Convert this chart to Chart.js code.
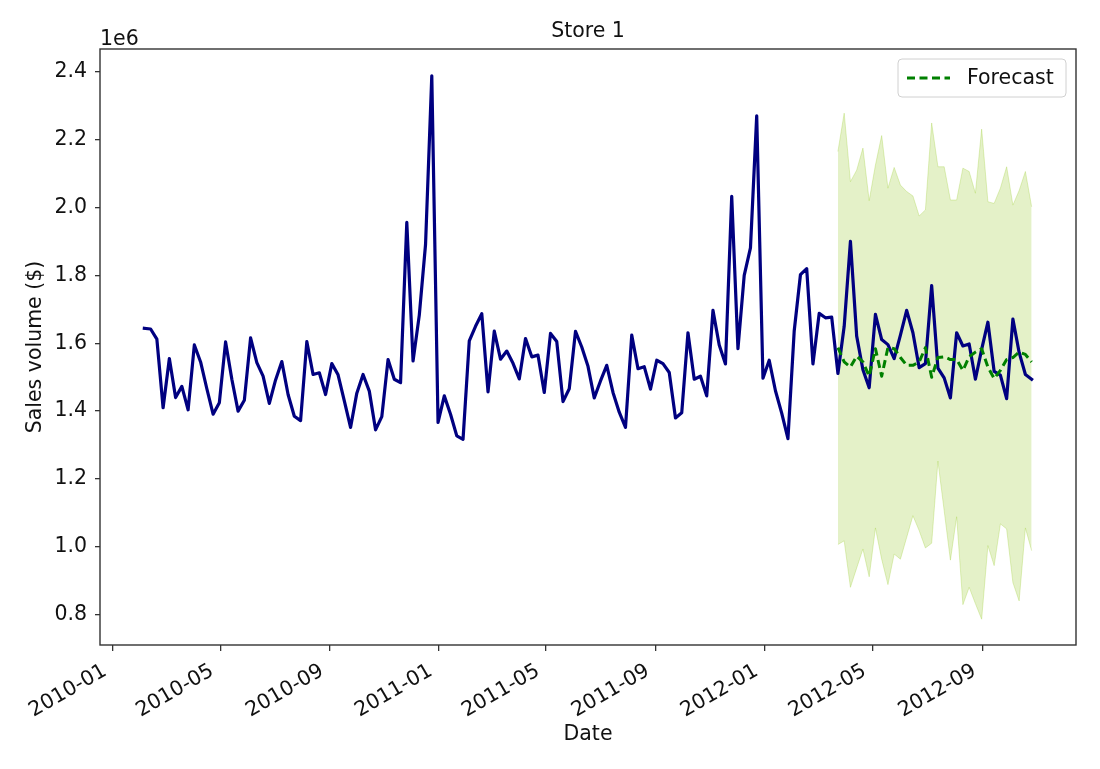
<!DOCTYPE html>
<html>
<head>
<meta charset="utf-8">
<script src="https://cdn.jsdelivr.net/npm/chart.js@4.4.1/dist/chart.umd.min.js"></script>
<style>
  html, body { margin: 0; padding: 0; background: #fff; }
  canvas { display: block; }
</style>
</head>
<body>
<canvas id="store-chart" width="1100" height="769"></canvas>
<script>
// weekly sales, store 1 (values in millions of $)
const firstWeek = '2010-02-05';
const sales = [
  1.644, 1.642, 1.612, 1.410, 1.555, 1.440, 1.473, 1.404, 1.595, 1.545,
  1.466, 1.391, 1.425, 1.604, 1.494, 1.400, 1.432, 1.616, 1.543, 1.503,
  1.423, 1.492, 1.546, 1.449, 1.385, 1.372, 1.605, 1.508, 1.513, 1.449,
  1.540, 1.507, 1.430, 1.352, 1.453, 1.508, 1.459, 1.345, 1.384, 1.552,
  1.494, 1.484, 1.956, 1.548, 1.683, 1.891, 2.388, 1.367, 1.445, 1.391,
  1.327, 1.317, 1.607, 1.650, 1.687, 1.457, 1.636, 1.553, 1.577, 1.541,
  1.495, 1.614, 1.560, 1.565, 1.455, 1.629, 1.605, 1.428, 1.466, 1.635,
  1.589, 1.532, 1.439, 1.489, 1.535, 1.455, 1.397, 1.352, 1.624, 1.525,
  1.531, 1.465, 1.550, 1.540, 1.514, 1.380, 1.395, 1.631, 1.494, 1.503,
  1.445, 1.697, 1.595, 1.539, 2.033, 1.584, 1.800, 1.881, 2.270, 1.497,
  1.550, 1.460, 1.394, 1.319, 1.636, 1.802, 1.820, 1.539, 1.688, 1.675,
  1.677, 1.511, 1.650, 1.900, 1.621, 1.522, 1.469, 1.685, 1.611, 1.596,
  1.555, 1.624, 1.697, 1.631, 1.528, 1.540, 1.770, 1.527, 1.498, 1.439,
  1.631, 1.592, 1.598, 1.494, 1.582, 1.662, 1.517, 1.506, 1.437, 1.671,
  1.573, 1.508, 1.494
];

// forecast starts on 2012-03-23 (week index 111)
const forecastStart = 111;
const forecast = [
  1.587, 1.545, 1.530, 1.562, 1.545, 1.503, 1.584, 1.503, 1.587, 1.584,
  1.558, 1.535, 1.535, 1.545, 1.587, 1.500, 1.558, 1.560, 1.552, 1.552,
  1.520, 1.560, 1.574, 1.584, 1.530, 1.496, 1.520, 1.552, 1.558, 1.574,
  1.567, 1.545
];
const upperBound = [
  2.165, 2.278, 2.076, 2.110, 2.175, 2.020, 2.125, 2.212, 2.057, 2.118,
  2.066, 2.047, 2.034, 1.975, 1.993, 2.249, 2.120, 2.120, 2.022, 2.022,
  2.116, 2.106, 2.042, 2.231, 2.017, 2.012, 2.057, 2.120, 2.007, 2.050,
  2.106, 2.002
];
const lowerBound = [
  1.007, 1.018, 0.881, 0.938, 0.994, 0.912, 1.056, 0.964, 0.889, 0.979,
  0.964, 1.028, 1.092, 1.048, 0.997, 1.011, 1.253, 1.107, 0.961, 1.089,
  0.830, 0.881, 0.833, 0.787, 1.004, 0.945, 1.068, 1.053, 0.895, 0.841,
  1.056, 0.989
];

const xTickLabels = ['2010-01', '2010-05', '2010-09', '2011-01', '2011-05', '2011-09', '2012-01', '2012-05', '2012-09'];
const yTicks = [0.8, 1.0, 1.2, 1.4, 1.6, 1.8, 2.0, 2.2, 2.4];

// x axis works in days since 2010-01-01
const DAY = 86400000;
const origin = Date.UTC(2010, 0, 1);
function dayOf(str) {
  const p = str.split('-').map(Number);
  return (Date.UTC(p[0], p[1] - 1, p[2] || 1) - origin) / DAY;
}
const startDay = dayOf(firstWeek);
const weekDays = sales.map((_, i) => startDay + i * 7);
const tickDays = xTickLabels.map(dayOf);

const salesPts = sales.map((v, i) => ({ x: weekDays[i], y: v }));
const fcDays = weekDays.slice(forecastStart, forecastStart + forecast.length);
const forecastPts = forecast.map((v, i) => ({ x: fcDays[i], y: v }));
const upperPts = upperBound.map((v, i) => ({ x: fcDays[i], y: v }));
const lowerPts = lowerBound.map((v, i) => ({ x: fcDays[i], y: v }));

const FONT = 'DejaVu Sans';
const FSIZE = 20.5;
const TXT = '#111111';
const AXIS = '#333333';

// frame, "1e6" offset text and the legend box
const extras = {
  id: 'extras',
  afterDraw(chart) {
    const { ctx, chartArea: a } = chart;
    ctx.save();
    ctx.strokeStyle = AXIS;
    ctx.lineWidth = 1.4;
    ctx.strokeRect(a.left, a.top, a.right - a.left, a.bottom - a.top);

    ctx.fillStyle = TXT;
    ctx.font = FSIZE + 'px "' + FONT + '"';
    ctx.textAlign = 'left';
    ctx.textBaseline = 'alphabetic';
    ctx.fillText('1e6', a.left, a.top - 4);

    // legend
    const w = 168, h = 38;
    const lx = a.right - 10 - w, ly = a.top + 10;
    ctx.beginPath();
    ctx.roundRect(lx, ly, w, h, 4);
    ctx.fillStyle = 'rgba(255,255,255,0.8)';
    ctx.fill();
    ctx.strokeStyle = '#d0d0d0';
    ctx.lineWidth = 1;
    ctx.stroke();

    ctx.beginPath();
    ctx.setLineDash([8, 4.5]);
    ctx.strokeStyle = '#008000';
    ctx.lineWidth = 3;
    ctx.moveTo(lx + 9, ly + h / 2);
    ctx.lineTo(lx + 52, ly + h / 2);
    ctx.stroke();
    ctx.setLineDash([]);

    ctx.fillStyle = TXT;
    ctx.textBaseline = 'middle';
    ctx.fillText('Forecast', lx + 69, ly + h / 2 + 1);
    ctx.restore();
  }
};

const ctx = document.getElementById('store-chart').getContext('2d');
new Chart(ctx, {
  type: 'line',
  data: {
    datasets: [
      {
        label: 'Forecast',
        data: forecastPts,
        borderColor: '#008000',
        borderWidth: 3,
        borderDash: [8, 4.5],
        borderJoinStyle: 'round',
        pointRadius: 0,
        fill: false
      },
      {
        label: 'Sales',
        data: salesPts,
        borderColor: '#000080',
        borderWidth: 3.2,
        borderJoinStyle: 'round',
        borderCapStyle: 'square',
        pointRadius: 0,
        fill: false
      },
      {
        label: 'Upper',
        data: upperPts,
        borderColor: 'rgba(154,205,50,0.3)',
        borderWidth: 1,
        backgroundColor: 'rgba(154,205,50,0.27)',
        pointRadius: 0,
        fill: '+1'
      },
      {
        label: 'Lower',
        data: lowerPts,
        borderColor: 'rgba(154,205,50,0.3)',
        borderWidth: 1,
        pointRadius: 0,
        fill: false
      }
    ]
  },
  options: {
    responsive: false,
    animation: false,
    devicePixelRatio: 1,
    layout: { padding: { left: 0, right: 24, top: 0, bottom: 0 } },
    plugins: {
      legend: { display: false },
      tooltip: { enabled: false },
      title: {
        display: true,
        fullSize: false,
        text: 'Store 1',
        color: TXT,
        font: { family: FONT, size: FSIZE, weight: 'normal' },
        padding: { top: 19.2, bottom: 5.2 }
      }
    },
    scales: {
      x: {
        type: 'linear',
        min: -14.7,
        max: 1078.7,
        afterFit(scale) { scale.height = 124; },
        afterBuildTicks(scale) { scale.ticks = tickDays.map(v => ({ value: v })); },
        border: { display: false },
        grid: { drawOnChartArea: false, drawTicks: true, tickLength: 6, color: AXIS, lineWidth: 1.3 },
        ticks: {
          autoSkip: false,
          minRotation: 30,
          maxRotation: 30,
          padding: 8,
          labelOffset: -8,
          color: TXT,
          font: { family: FONT, size: FSIZE },
          callback: (v) => xTickLabels[tickDays.indexOf(v)] || ''
        },
        title: {
          display: true,
          text: 'Date',
          color: TXT,
          font: { family: FONT, size: FSIZE },
          padding: { top: 0, bottom: 21.7 }
        }
      },
      y: {
        min: 0.711,
        max: 2.467,
        afterFit(scale) { scale.width = 100; },
        afterBuildTicks(scale) { scale.ticks = yTicks.map(v => ({ value: v })); },
        border: { display: false },
        grid: { drawOnChartArea: false, drawTicks: true, tickLength: 5, color: AXIS, lineWidth: 1.3 },
        ticks: {
          padding: 8,
          color: TXT,
          font: { family: FONT, size: FSIZE },
          callback: (v) => v.toFixed(1)
        },
        title: {
          display: true,
          text: 'Sales volume ($)',
          color: TXT,
          font: { family: FONT, size: FSIZE },
          padding: { top: 23.7, bottom: 0 }
        }
      }
    }
  },
  plugins: [extras]
});
</script>
</body>
</html>
